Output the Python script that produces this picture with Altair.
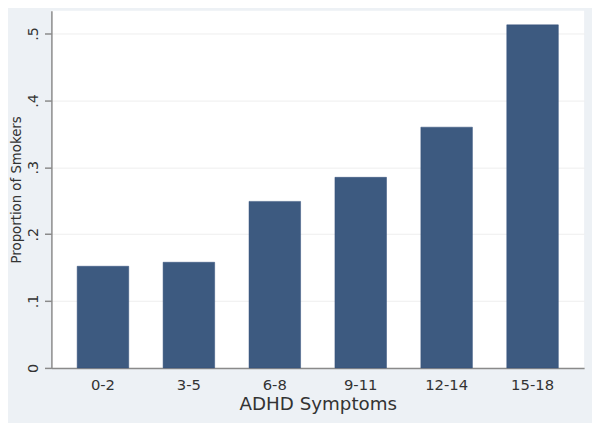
import altair as alt
import pandas as pd

categories = ["0-2", "3-5", "6-8", "9-11", "12-14", "15-18"]
proportions = [0.152, 0.158, 0.249, 0.285, 0.360, 0.513]

df = pd.DataFrame({"group": categories, "prop": proportions})

FONT = "DejaVu Sans"

chart = alt.Chart(df).mark_bar(color="#3d5a80", stroke="#34507a", strokeWidth=0.5).encode(
    x=alt.X("group:N", sort=categories,
            scale=alt.Scale(paddingInner=0.4, paddingOuter=0.3),
            axis=alt.Axis(title="ADHD Symptoms", labelAngle=0, ticks=False,
                          labelPadding=10, titlePadding=2, labelFontSize=15,
                          titleFontSize=18.5, titleFontWeight="normal",
                          domainColor="#8a8a8a", domainWidth=1.5,
                          labelColor="#333333", titleColor="#333333",
                          labelFont=FONT, titleFont=FONT)),
    y=alt.Y("prop:Q", scale=alt.Scale(domain=[0, 0.534], nice=False),
            axis=alt.Axis(title="Proportion of Smokers", values=[0, 0.1, 0.2, 0.3, 0.4, 0.5],
                          labelExpr="datum.value == 0 ? '0' : substring(format(datum.value, '.1f'), 1)",
                          labelAngle=270, labelAlign="center", labelBaseline="bottom",
                          labelPadding=4, tickSize=7, tickColor="#8a8a8a", tickWidth=1.5,
                          domainColor="#8a8a8a", domainWidth=1.5,
                          grid=True, gridColor="#eeeeee", gridWidth=1,
                          labelFontSize=14.5, titleFontSize=13.5, titleFontWeight="normal",
                          titlePadding=2, labelColor="#333333", titleColor="#333333",
                          labelFont=FONT, titleFont=FONT)),
).properties(
    width=540, height=362,
    autosize=alt.AutoSizeParams(type="none"),
    padding={"left": 44, "top": 0, "right": 8, "bottom": 53},
    background="#edf1f5",
).configure_view(fill="white", strokeWidth=0)

chart.save("out.html", embed_options={"renderer": "svg", "actions": False})
